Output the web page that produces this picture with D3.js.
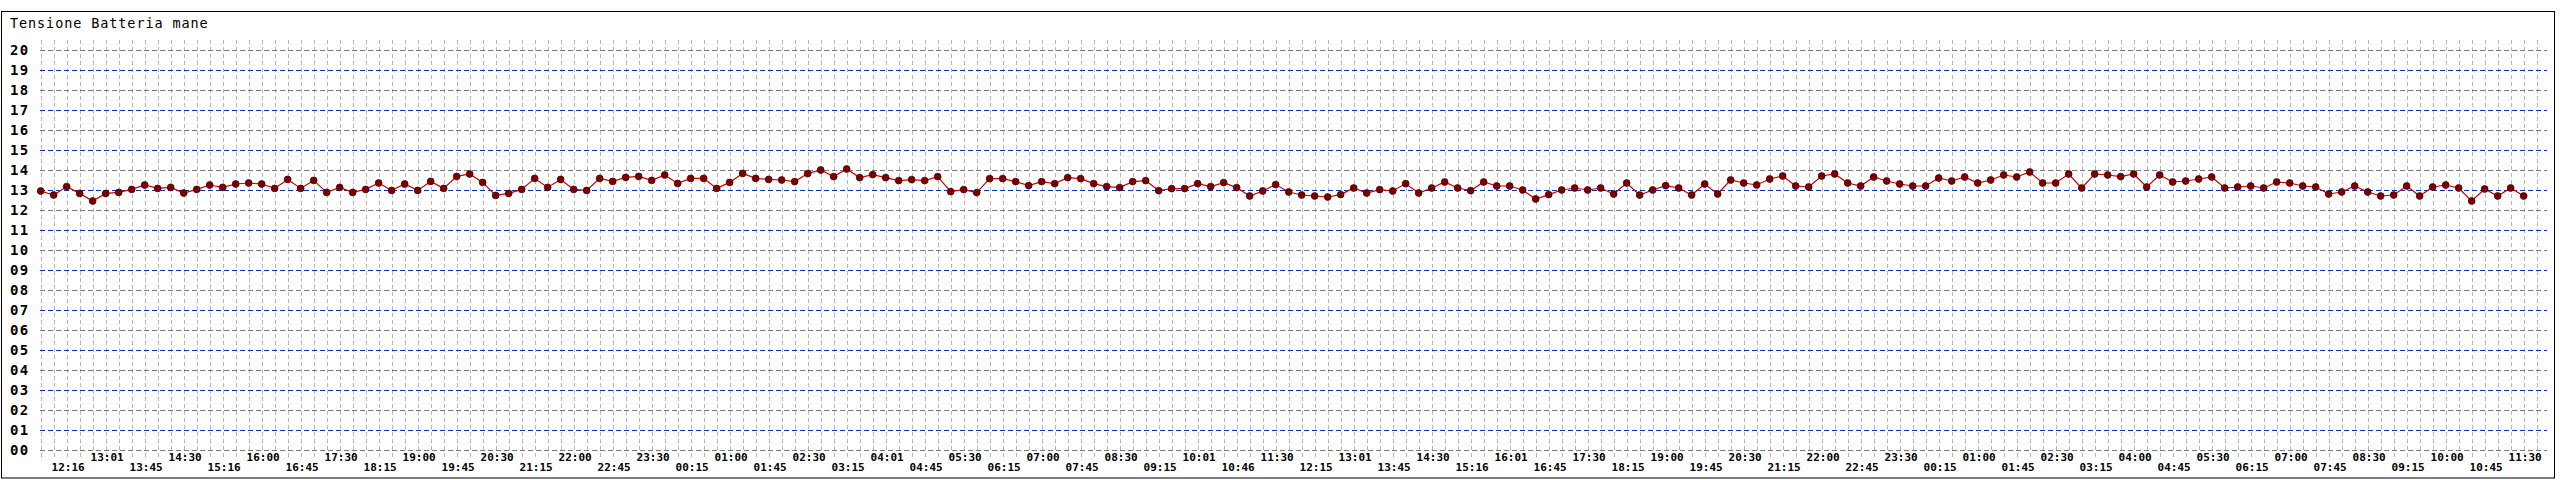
<!DOCTYPE html>
<html>
<head>
<meta charset="utf-8">
<script src="https://cdn.jsdelivr.net/npm/d3@7"></script>
<style>
html,body{margin:0;padding:0;background:#fff;}
svg{display:block;}
</style>
</head>
<body>
<svg id="chart" width="2560" height="480"></svg>
<script>
const title = "Tensione Batteria mane";

const voltage = [
12.95,12.75,13.17,12.83,12.45,12.83,12.88,13.03,13.25,13.08,
13.13,12.85,13.03,13.25,13.13,13.30,13.35,13.30,13.08,13.53,
13.08,13.48,12.88,13.13,12.88,13.03,13.35,12.98,13.30,12.98,
13.43,13.08,13.68,13.80,13.38,12.73,12.83,13.03,13.58,13.13,
13.53,13.03,12.98,13.58,13.43,13.63,13.68,13.48,13.75,13.33,
13.58,13.58,13.08,13.38,13.83,13.58,13.53,13.50,13.42,13.82,
14.00,13.67,14.05,13.62,13.77,13.62,13.47,13.52,13.47,13.67,
12.92,13.02,12.87,13.57,13.57,13.42,13.22,13.42,13.32,13.62,
13.57,13.32,13.17,13.12,13.42,13.47,12.97,13.07,13.07,13.32,
13.17,13.37,13.12,12.70,12.95,13.27,12.90,12.75,12.70,12.65,
12.77,13.10,12.85,13.02,12.95,13.32,12.85,13.10,13.40,13.10,
12.97,13.40,13.20,13.20,13.00,12.55,12.77,13.00,13.10,13.00,
13.10,12.80,13.35,12.75,13.00,13.22,13.10,12.75,13.30,12.80,
13.50,13.35,13.25,13.55,13.70,13.20,13.15,13.70,13.80,13.35,
13.20,13.65,13.45,13.30,13.20,13.20,13.60,13.45,13.65,13.35,
13.50,13.75,13.65,13.90,13.35,13.35,13.80,13.10,13.80,13.75,
13.67,13.80,13.15,13.75,13.40,13.45,13.55,13.65,13.10,13.15,
13.20,13.10,13.40,13.35,13.20,13.15,12.80,12.90,13.20,12.90,
12.70,12.75,13.20,12.70,13.15,13.25,13.10,12.45,13.05,12.70,
13.10,12.70
];

const timeLabels = [
"12:16","13:01","13:45","14:30","15:16","16:00","16:45","17:30","18:15","19:00",
"19:45","20:30","21:15","22:00","22:45","23:30","00:15","01:00","01:45","02:30",
"03:15","04:01","04:45","05:30","06:15","07:00","07:45","08:30","09:15","10:01",
"10:46","11:30","12:15","13:01","13:45","14:30","15:16","16:01","16:45","17:30",
"18:15","19:00","19:45","20:30","21:15","22:00","22:45","23:30","00:15","01:00",
"01:45","02:30","03:15","04:00","04:45","05:30","06:15","07:00","07:45","08:30",
"09:15","10:00","10:45","11:30"
];

const yTickValues = d3.range(0, 21);

const svg = d3.select("#chart");

// frame
svg.append("rect")
  .attr("x", 1.5).attr("y", 11.5)
  .attr("width", 2553).attr("height", 466.5)
  .attr("fill", "#fff").attr("stroke", "#000").attr("stroke-width", 1);

svg.append("text")
  .attr("x", 10).attr("y", 28)
  .attr("font-family", "DejaVu Sans Mono, monospace")
  .attr("font-size", 13.5)
  .attr("letter-spacing", 0.9)
  .attr("fill", "#000")
  .text(title);

const nSlots = voltage.length; // 192 points, grid to 192
const x = d3.scaleLinear().domain([0, nSlots]).range([40.67, 2536.67]);
const y = d3.scaleLinear().domain([0, 20]).range([450, 50]);

// vertical grid
svg.append("g").selectAll("line")
  .data(d3.range(0, nSlots + 1))
  .join("line")
  .attr("x1", d => Math.round(x(d)) + 0.5)
  .attr("x2", d => Math.round(x(d)) + 0.5)
  .attr("y1", 40).attr("y2", 460)
  .attr("stroke", "#b8b8b8")
  .attr("stroke-width", 1)
  .attr("stroke-dasharray", "4,3");

// horizontal grid
svg.append("g").selectAll("line")
  .data(yTickValues)
  .join("line")
  .attr("x1", 40).attr("x2", 2547)
  .attr("y1", d => Math.round(y(d)) + 0.5)
  .attr("y2", d => Math.round(y(d)) + 0.5)
  .attr("stroke", d => d % 2 === 1 ? "#0030c0" : "#7a7a7a")
  .attr("stroke-width", 1)
  .attr("stroke-dasharray", "5,3");

// y labels
svg.append("g").selectAll("text")
  .data(yTickValues)
  .join("text")
  .attr("x", 10)
  .attr("y", d => y(d))
  .attr("dy", "0.36em")
  .attr("font-family", "DejaVu Sans Mono, monospace")
  .attr("font-weight", "bold")
  .attr("font-size", 14)
  .attr("letter-spacing", 1.4)
  .attr("fill", "#000")
  .text(d => d3.format("02d")(d));

// x labels
svg.append("g").selectAll("text")
  .data(timeLabels)
  .join("text")
  .attr("x", (d, i) => x(2 + 3 * i) + 1.5)
  .attr("y", (d, i) => i % 2 === 0 ? 467 : 457)
  .attr("dy", "0.36em")
  .attr("text-anchor", "middle")
  .attr("font-family", "DejaVu Sans Mono, monospace")
  .attr("font-weight", "bold")
  .attr("font-size", 11)
  .attr("fill", "#000")
  .text(d => d);

// series line
const line = d3.line().x((d, i) => x(i)).y(d => y(d));
svg.append("path")
  .datum(voltage)
  .attr("d", line)
  .attr("fill", "none")
  .attr("stroke", "#cc0000")
  .attr("stroke-width", 1.2);

// markers
svg.append("g").selectAll("circle")
  .data(voltage)
  .join("circle")
  .attr("cx", (d, i) => x(i))
  .attr("cy", d => y(d))
  .attr("r", 3.4)
  .attr("fill", "#7a0000")
  .attr("stroke", "#4a0000")
  .attr("stroke-width", 0.8);
</script>
</body>
</html>
